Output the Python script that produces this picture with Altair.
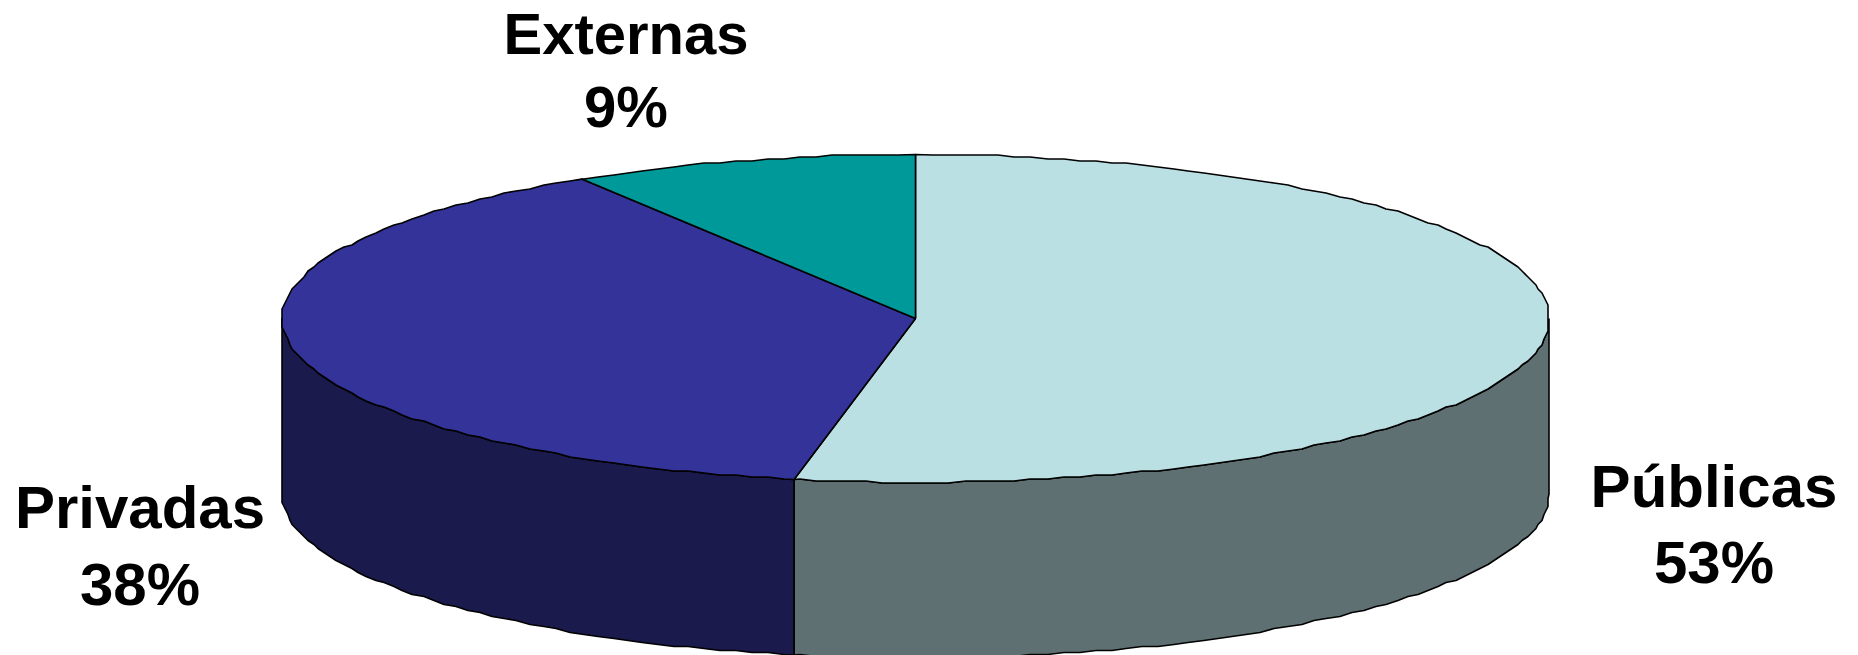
import numpy as np
import pandas as pd
import altair as alt

# Chart values
categories = ["Públicas", "Privadas", "Externas"]
shares = [53.07, 38.1, 8.83]          # slice sizes
share_labels = ["53%", "38%", "9%"]   # printed labels
top_colors = ["#BBE0E3", "#333399", "#009999"]
side_colors = ["#5E7072", "#1A1A4D", "#004D4D"]

# Layout of the tilted pie, in page pixels
PAGE_W, PAGE_H, MARGIN = 1858, 655, 8
CX, CY, RX, RY, DEPTH = 915.5, 317.5, 633.5, 164.0, 175.5
GRID = 2.0            # slight outline quantisation seen in the reference
STEP_DEG = 1.5
label_layout = {      # centre x, first baseline, second baseline, font size
    "Públicas": (1714, 506, 582, 60),
    "Privadas": (140, 527, 604, 60),
    "Externas": (626, 53, 126, 58),
}


def rim(a0, a1, dy=0.0):
    """Points on the ellipse rim between two clockwise angles from 12 o'clock."""
    inner = np.arange(np.ceil(a0 / STEP_DEG + 1e-6), np.floor(a1 / STEP_DEG - 1e-6) + 1) * STEP_DEG
    inner_r = np.radians(inner)
    xs = np.round((CX + RX * np.sin(inner_r)) / GRID) * GRID
    ys = np.round((CY - RY * np.cos(inner_r)) / GRID) * GRID
    pts = [(CX + RX * np.sin(np.radians(a0)), CY - RY * np.cos(np.radians(a0)) + dy)]
    pts += [(x, y + dy) for x, y in zip(xs, ys)]
    pts += [(CX + RX * np.sin(np.radians(a1)), CY - RY * np.cos(np.radians(a1)) + dy)]
    return pts


def frame(points):
    pts = points + [points[0]]
    return pd.DataFrame({"x": [p[0] for p in pts], "y": [p[1] for p in pts], "i": range(len(pts))})


x_scale = alt.Scale(domain=[MARGIN, PAGE_W - MARGIN], range=[0, PAGE_W - 2 * MARGIN], nice=False, zero=False)
y_scale = alt.Scale(domain=[MARGIN, PAGE_H], range=[0, PAGE_H - MARGIN], nice=False, zero=False)


def polygon(points, fill):
    return alt.Chart(frame(points)).mark_line(
        fill=fill, stroke="#000000", strokeWidth=1.6, strokeJoin="round", clip=False, interpolate="linear"
    ).encode(
        x=alt.X("x:Q", scale=x_scale, axis=None),
        y=alt.Y("y:Q", scale=y_scale, axis=None),
        order=alt.Order("i:Q"),
    )


# Slice boundaries, clockwise from 12 o'clock
edges = np.cumsum([0] + shares) / sum(shares) * 360.0

layers = []
# Side walls: only the part of each slice on the near half of the ellipse shows
for k in range(len(shares)):
    a0, a1 = max(edges[k], 90.0), min(edges[k + 1], 270.0)
    if a1 <= a0:
        continue
    layers.append(polygon(rim(a0, a1) + rim(a0, a1, DEPTH)[::-1], side_colors[k]))
# Top faces
for k in range(len(shares)):
    layers.append(polygon([(CX, CY)] + rim(edges[k], edges[k + 1]), top_colors[k]))

# Labels
rows = []
for name, value in zip(categories, share_labels):
    lx, y1, y2, fs = label_layout[name]
    rows.append({"x": lx, "y": y1, "t": name, "s": fs})
    rows.append({"x": lx, "y": y2, "t": value, "s": fs})
labels = alt.Chart(pd.DataFrame(rows)).mark_text(
    font="Liberation Sans", fontWeight="bold", align="center", baseline="alphabetic", color="#000000"
).encode(
    x=alt.X("x:Q", scale=x_scale, axis=None),
    y=alt.Y("y:Q", scale=y_scale, axis=None),
    text="t:N",
    size=alt.Size("s:Q", scale=None, legend=None),
)
layers.append(labels)

chart = alt.layer(*layers).properties(
    width=PAGE_W - 2 * MARGIN, height=PAGE_H - MARGIN, padding=0, background="#FFFFFF"
).configure_view(stroke=None)

chart.save("out.html", embed_options={"renderer": "svg", "actions": False})
